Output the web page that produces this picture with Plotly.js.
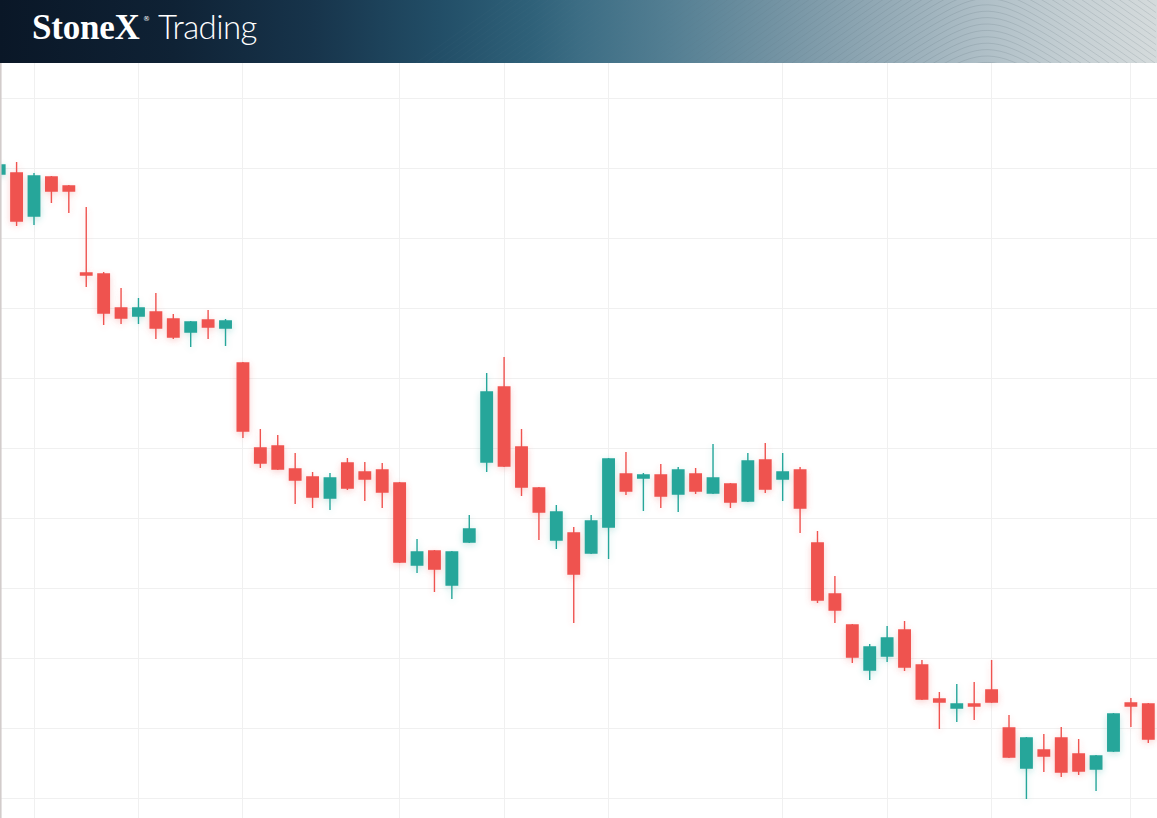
<!DOCTYPE html>
<html>
<head>
<meta charset="utf-8">
<script src="https://cdn.plot.ly/plotly-3.0.1.min.js"></script>
<style>
html,body{margin:0;padding:0;background:#ffffff;overflow:hidden;}
#wrap{position:relative;width:1157px;height:818px;background:#fff;}
#header{position:absolute;left:0;top:0;width:1157px;height:63px;
  background:linear-gradient(90deg,#0a1727 0%,#0f2235 15%,#17344b 27%,#224e67 38%,#2f6179 46%,#3c6d84 50%,#547f93 58%,#7393a3 67%,#92a9b5 76%,#afbfc7 85%,#c6d0d4 93%,#d5dbdc 100%);
  overflow:hidden;}
#header svg{position:absolute;left:0;top:0;}
#chart{position:absolute;left:0;top:63px;width:1157px;height:755px;}
.js-plotly-plot .boxlayer{filter:url(#glow);}
</style>
</head>
<body>
<svg width="0" height="0" style="position:absolute">
  <defs>
    <filter id="glow" x="-60%" y="-20%" width="220%" height="140%">
      <feGaussianBlur in="SourceGraphic" stdDeviation="3.5" result="b"/>
      <feOffset in="b" dx="0" dy="2" result="o"/>
      <feComponentTransfer in="o" result="t"><feFuncA type="linear" slope="0.28"/></feComponentTransfer>
      <feMerge><feMergeNode in="t"/><feMergeNode in="SourceGraphic"/></feMerge>
    </filter>
  </defs>
</svg>
<div id="wrap">
  <div id="header">
    <svg id="topo" width="1157" height="63"></svg>
  </div>
  <div id="chart"></div>
</div>
<script>
// ---- data ----
var opens  = [162.4,162.5,158.2,162.1,161.2,152.5,152.4,149.0,148.2,148.6,147.9,146.6,147.8,147.0,
              143.5,135.0,135.2,132.9,132.1,130.0,133.5,132.6,132.8,131.5,123.3,124.7,121.3,125.6,
              133.6,141.1,135.1,131.0,125.8,126.5,124.5,127.1,132.4,132.0,132.3,130.4,132.4,130.5,
              131.4,129.7,133.8,131.9,132.8,125.5,120.4,117.3,112.8,114.2,116.8,113.3,109.9,109.0,
              109.4,110.8,107.0,103.0,104.8,106.0,104.4,102.9,104.7,109.5,109.4];
var highs  = [163.4,163.6,162.5,162.2,161.3,159.1,152.6,151.0,150.0,150.5,148.4,147.7,148.8,147.9,
              143.6,136.9,136.3,134.5,132.6,132.5,134.0,133.6,133.5,131.6,125.9,124.8,124.7,128.3,
              142.5,144.1,136.9,131.1,129.3,127.1,128.3,134.0,134.6,132.5,133.4,133.1,133.0,135.4,
              131.5,134.5,135.5,134.5,133.1,126.7,122.2,117.4,115.4,117.2,117.7,113.8,110.6,111.4,
              111.6,113.8,108.3,106.1,106.4,107.1,105.9,104.3,108.5,110.0,109.5];
var lows   = [162.3,157.2,157.3,159.5,158.5,151.1,147.3,147.4,147.4,145.9,145.9,145.1,145.9,145.2,
              136.0,133.0,132.8,129.4,129.0,128.8,130.8,129.7,129.0,123.5,122.5,120.6,119.9,125.5,
              132.6,133.1,130.2,125.8,124.9,117.5,124.4,123.9,130.3,128.7,129.0,128.6,130.4,130.4,
              129.0,129.6,130.5,129.7,126.5,119.5,117.5,113.5,111.8,113.6,112.7,109.8,106.9,107.6,
              107.8,109.5,104.0,99.9,102.6,102.1,102.3,100.7,104.6,107.1,105.5];
var closes = [163.3,157.7,162.2,160.7,160.7,152.3,148.5,148.0,149.0,147.0,146.1,147.6,147.1,147.7,
              136.7,133.5,132.9,131.8,130.1,132.0,131.0,131.9,130.6,123.6,124.6,122.9,124.6,126.9,
              140.6,133.2,131.1,128.6,128.6,122.4,127.7,133.9,130.7,132.3,130.2,132.8,130.7,132.0,
              129.6,133.7,130.9,132.6,129.0,119.8,118.8,114.1,115.1,116.0,113.1,109.9,109.6,109.4,
              109.2,109.6,104.1,106.0,104.2,102.6,102.7,104.2,108.4,109.2,105.9];
// bar positions where the vertical grid lines fall
var gridBars = [2,8,14,23,29,35,45,51,57,65];
// ---- colours ----
var upColor = '#26a69a';
var downColor = '#ef5350';

var bars = opens.map(function(_, i){ return i; });

var trace = {
  type: 'candlestick',
  x: bars,
  open: opens, high: highs, low: lows, close: closes,
  increasing: {line: {color: upColor, width: 1.4}, fillcolor: upColor},
  decreasing: {line: {color: downColor, width: 1.4}, fillcolor: downColor},
  whiskerwidth: 0,
  hoverinfo: 'skip',
  showlegend: false
};

var layout = {
  width: 1157, height: 755,
  margin: {l: 0, r: 0, t: 0, b: 0, pad: 0},
  paper_bgcolor: '#ffffff',
  plot_bgcolor: '#ffffff',
  showlegend: false,
  boxgap: 0.06,
  xaxis: {
    range: [0.047, 66.5],
    tickmode: 'array', tickvals: gridBars,
    showticklabels: false, ticks: '',
    showgrid: true, gridcolor: '#f0f0f0', gridwidth: 1,
    zeroline: false, showline: false,
    rangeslider: {visible: false}
  },
  yaxis: {
    range: [98.0, 173.5],
    tick0: 100, dtick: 7,
    showticklabels: false, ticks: '',
    showgrid: true, gridcolor: '#f0f0f0', gridwidth: 1,
    zeroline: false, showline: false
  },
  shapes: [{type: 'line', xref: 'paper', yref: 'paper', x0: 0.0005, x1: 0.0005, y0: 0, y1: 1,
            line: {color: '#d2cccb', width: 2}}]
};

Plotly.newPlot('chart', [trace], layout, {staticPlot: true, displayModeBar: false});

// ---- header artwork + brand text ----
(function(){
  var ns = 'http://www.w3.org/2000/svg';
  var svg = document.getElementById('topo');
  var defs = document.createElementNS(ns, 'defs');
  defs.innerHTML = '<linearGradient id="fade" gradientUnits="userSpaceOnUse" x1="150" y1="0" x2="950" y2="0">' +
    '<stop offset="0" stop-color="rgb(120,150,170)" stop-opacity="0.04"/>' +
    '<stop offset="0.6" stop-color="rgb(90,115,130)" stop-opacity="0.10"/>' +
    '<stop offset="1" stop-color="rgb(70,90,100)" stop-opacity="0.22"/></linearGradient>';
  svg.appendChild(defs);
  var cx = 987, w = 38, k = 0.72;
  for (var i = -2; i < 60; i++) {
    var peak = 56 - 6.4 * i;
    var pts = [];
    for (var x = 100; x <= 1160; x += 6) {
      var y = peak - k * w + k * Math.sqrt(w * w + (x - cx) * (x - cx));
      pts.push(x + ',' + y.toFixed(1));
    }
    var p = document.createElementNS(ns, 'polyline');
    p.setAttribute('points', pts.join(' '));
    p.setAttribute('fill', 'none');
    p.setAttribute('stroke', 'url(#fade)');
    p.setAttribute('stroke-width', '0.7');
    svg.appendChild(p);
  }
  function txt(s, x, y, fam, wt, size, extra){
    var t = document.createElementNS(ns, 'text');
    t.setAttribute('x', x); t.setAttribute('y', y);
    t.setAttribute('fill', '#ffffff');
    t.setAttribute('font-family', fam);
    t.setAttribute('font-weight', wt);
    t.setAttribute('font-size', size);
    if (extra) for (var key in extra) t.setAttribute(key, extra[key]);
    t.textContent = s;
    svg.appendChild(t);
  }
  txt('StoneX', 32, 39, '"Liberation Serif", serif', 700, 35, {'letter-spacing': '-0.2'});
  txt('®', 143, 21, '"DejaVu Sans", sans-serif', 400, 7);
  txt('Trading', 158, 39, 'Lato, "Open Sans", sans-serif', 300, 33, {'letter-spacing': '-0.6'});
})();
</script>
</body>
</html>
